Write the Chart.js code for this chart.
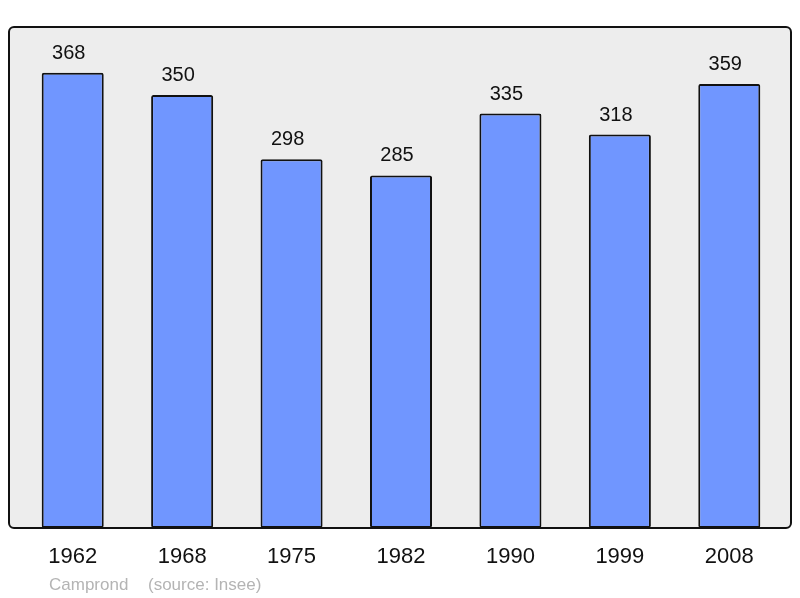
<!DOCTYPE html>
<html>
<head>
<meta charset="utf-8">
<script src="https://cdn.jsdelivr.net/npm/chart.js@4/dist/chart.umd.min.js"></script>
<style>
  html, body { margin: 0; padding: 0; background: #fff; }
  #wrap { width: 800px; height: 598px; }
</style>
</head>
<body>
<div id="wrap"><canvas id="popChart" width="800" height="598"></canvas></div>
<script>
// population of Camprond by census year
const years = ['1962', '1968', '1975', '1982', '1990', '1999', '2008'];
const population = [368, 350, 298, 285, 335, 318, 359];
const placeName = 'Camprond';
const sourceNote = '(source: Insee)';

const FONT = '"Liberation Sans", Arial, sans-serif';

// grey panel + black rounded frame behind the bars
const framePlugin = {
  id: 'frame',
  box(chart) {
    const a = chart.chartArea;
    return { x: a.left - 9, y: a.top, w: (a.right + 7) - (a.left - 9), h: a.bottom - a.top };
  },
  beforeDatasetsDraw(chart) {
    const c = chart.ctx, b = this.box(chart);
    c.save();
    c.beginPath();
    c.roundRect(b.x, b.y, b.w, b.h, 5);
    c.fillStyle = '#ededed';
    c.fill();
    c.restore();
  },
  afterDatasetsDraw(chart) {
    const c = chart.ctx, b = this.box(chart);
    c.save();
    c.beginPath();
    c.roundRect(b.x, b.y, b.w, b.h, 5);
    c.lineWidth = 2;
    c.strokeStyle = '#111';
    c.stroke();

    // value labels above each bar
    const meta = chart.getDatasetMeta(0);
    c.font = '20px ' + FONT;
    c.fillStyle = '#111';
    c.textAlign = 'center';
    c.textBaseline = 'alphabetic';
    meta.data.forEach((bar, i) => {
      c.fillText(String(population[i]), bar.x - 4, bar.y - 14);
    });

    // footer
    c.font = '17px ' + FONT;
    c.fillStyle = '#b4b4b4';
    c.textAlign = 'left';
    c.fillText(placeName, 49, 590);
    c.fillText(sourceNote, 148, 590);
    c.restore();
  }
};

new Chart(document.getElementById('popChart').getContext('2d'), {
  type: 'bar',
  data: {
    labels: years,
    datasets: [{
      data: population,
      backgroundColor: '#7096ff',
      borderColor: '#111',
      borderWidth: 2,
      borderRadius: 2,
      borderSkipped: false,
      barPercentage: 0.567,
      categoryPercentage: 1
    }]
  },
  options: {
    responsive: false,
    animation: false,
    layout: { padding: { left: 18, right: 16, top: 27, bottom: 0 } },
    plugins: { legend: { display: false }, tooltip: { enabled: false } },
    scales: {
      x: {
        grid: { display: false },
        border: { display: false },
        ticks: { color: '#111', font: { size: 22, family: FONT }, padding: 8, maxRotation: 0 },
        afterFit(scale) { scale.height = 70; }
      },
      y: { display: false, min: 0, max: 405 }
    }
  },
  plugins: [framePlugin]
});
</script>
</body>
</html>
